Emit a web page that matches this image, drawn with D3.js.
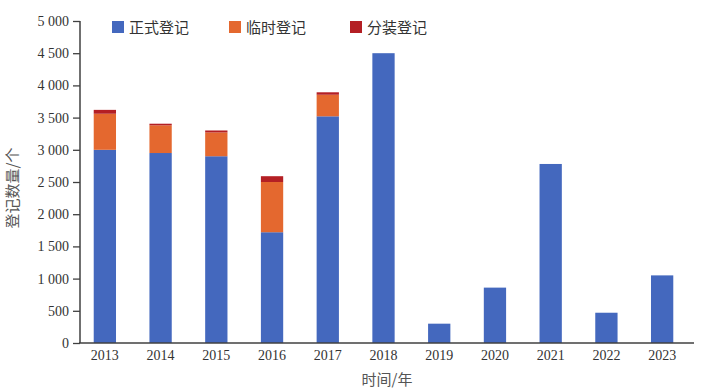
<!DOCTYPE html>
<html><head><meta charset="utf-8">
<script src="https://cdn.jsdelivr.net/npm/d3@7"></script>
<style>html,body{margin:0;padding:0;background:#fff;}</style>
</head><body>
<svg id="c" width="702" height="392"></svg>
<script>
const years = ["2013","2014","2015","2016","2017","2018","2019","2020","2021","2022","2023"];
const formal = [3000, 2950, 2900, 1720, 3520, 4500, 300, 860, 2780, 470, 1050];
const temporary = [560, 430, 370, 780, 335, 0, 0, 0, 0, 0, 0];
const split = [60, 25, 30, 90, 38, 0, 0, 0, 0, 0, 0];
const seriesNames = ["正式登记", "临时登记", "分装登记"];
const seriesColors = ["#4468BE", "#E4682F", "#B41F24"];
const yTicks = [0, 500, 1000, 1500, 2000, 2500, 3000, 3500, 4000, 4500, 5000];
const xTitle = "时间/年";
const yTitle = "登记数量/个";

const svg = d3.select("#c");
const x = d3.scaleBand().domain(years).range([77, 690]).paddingInner(0.6).paddingOuter(0.3);
const y = d3.scaleLinear().domain([0, 5000]).range([343, 21]);

const rows = years.map((yr, i) => ({year: yr, s0: formal[i], s1: temporary[i], s2: split[i]}));
const stack = d3.stack().keys(["s0", "s1", "s2"])(rows);

svg.append("g").selectAll("g").data(stack).join("g")
  .attr("fill", (d, i) => seriesColors[i])
  .selectAll("rect").data(d => d.filter(p => p[1] - p[0] > 0)).join("rect")
  .attr("x", d => x(d.data.year))
  .attr("width", x.bandwidth())
  .attr("y", d => y(d[1]))
  .attr("height", d => y(d[0]) - y(d[1]));

const fmt = v => d3.format(",")(v).replace(/,/g, " ");
const yAxis = svg.append("g").attr("transform", "translate(80,0)")
  .call(d3.axisLeft(y).tickValues(yTicks).tickFormat(fmt).tickSize(7).tickPadding(4));
yAxis.select(".domain").attr("stroke", "#404040").attr("stroke-width", 1.5).attr("d", "M0,21V343");
yAxis.selectAll(".tick line").attr("stroke", "#404040").attr("stroke-width", 1.3);
yAxis.selectAll("text").attr("font-family", "'Liberation Serif', serif").attr("font-size", 14).attr("fill", "#333");

const xAxis = svg.append("g").attr("transform", "translate(0,343)")
  .call(d3.axisBottom(x).tickSize(0).tickPadding(7));
xAxis.select(".domain").attr("stroke", "#404040").attr("stroke-width", 1.5).attr("d", "M79,0H694");
xAxis.selectAll("text").attr("font-family", "'Liberation Serif', serif").attr("font-size", 14).attr("fill", "#333");

svg.append("text").attr("x", 387).attr("y", 385).attr("text-anchor", "middle")
  .attr("font-family", "'Noto Sans CJK SC', sans-serif").attr("font-size", 15).attr("fill", "#555")
  .text(xTitle);
svg.append("text").attr("transform", "translate(18,188) rotate(-90)").attr("text-anchor", "middle")
  .attr("font-family", "'Noto Sans CJK SC', sans-serif").attr("font-size", 15).attr("fill", "#555")
  .text(yTitle);

const legX = [112, 229, 350];
const leg = svg.append("g").selectAll("g").data(seriesNames).join("g")
  .attr("transform", (d, i) => `translate(${legX[i]},21)`);
leg.append("rect").attr("width", 12).attr("height", 12).attr("fill", (d, i) => seriesColors[i]);
leg.append("text").attr("x", 17).attr("y", 11.5)
  .attr("font-family", "'Noto Sans CJK SC', sans-serif").attr("font-size", 15).attr("fill", "#333")
  .text(d => d);
</script>
</body></html>
